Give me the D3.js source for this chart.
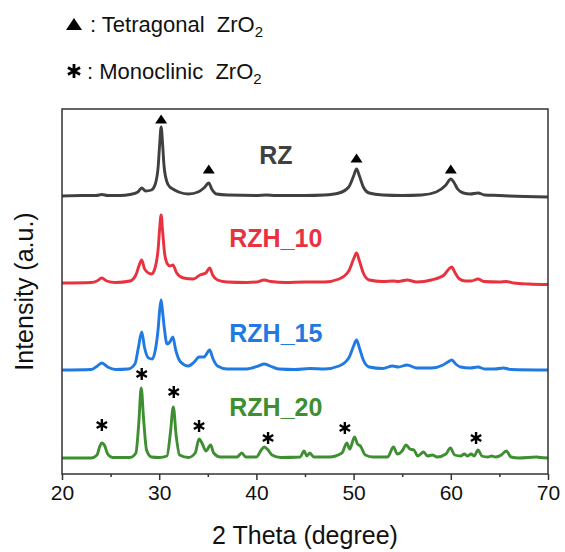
<!DOCTYPE html>
<html><head><meta charset="utf-8">
<script src="https://cdn.jsdelivr.net/npm/d3@7"></script>
<style>body{margin:0;background:#fff;} text{font-family:"Liberation Sans",Arial,sans-serif;}</style>
</head><body><svg id="c" width="565" height="552"></svg>
<script>
// ---- data (2θ in degrees, intensity in a.u. above each trace's own baseline) ----
const seriesNames = ["RZ", "RZH_10", "RZH_15", "RZH_20"];
const seriesColors = ["#404040", "#e8323f", "#2179e2", "#3e8f31"];
const seriesOffsets = [278, 191, 104, 16];

const rz = [[20,0],[22,0.5],[23.5,0.5],[24.1,1.5],[24.7,0.5],[26,0.5],[27,1.5],[27.8,4],[28.2,8],[28.6,5],[29.2,6],[29.6,12],[29.9,30],[30.05,52],[30.2,69],[30.35,52],[30.5,30],[30.8,14],[31.1,9],[31.4,7],[32,4],[33,2],[34,4],[34.6,8],[35.1,13],[35.4,7],[35.9,2],[37,1],[40,0.5],[41,1],[42,0.5],[45,0.5],[47,1],[48.5,3],[49.5,9],[50,20],[50.3,27],[50.6,20],[51,9],[51.6,3],[53,1],[55,0.5],[57,1],[58.5,4],[59.5,11],[60.0,17],[60.3,14],[60.7,7],[61.3,3],[62,2],[62.8,3],[63.5,1],[65,0.5],[66,0],[70,-1]];
const rzh10 = [[20,0],[23,0.5],[23.6,2],[24.1,5],[24.6,2],[25.5,0.5],[27,2],[27.6,8],[27.95,18],[28.2,23],[28.5,14],[29.2,9],[29.6,16],[29.9,35],[30.05,55],[30.2,68],[30.35,52],[30.55,30],[30.85,19],[31.1,17],[31.4,18],[31.8,10],[32.5,5],[33.5,4],[34.2,8],[34.8,10],[35.2,15],[35.5,8],[36,3],[37,1],[39,0.5],[40,1],[40.8,3],[41.5,1.5],[43,0.5],[45,1],[47,1],[48.5,4],[49.5,12],[50.0,24],[50.3,30],[50.6,22],[51,10],[51.6,3],[53,1.5],[54.1,2],[54.6,1.5],[55.5,3],[56.5,1],[58,3],[59.3,8],[59.8,14],[60.1,16],[60.4,11],[60.9,4],[61.5,2],[62.1,2],[62.8,4],[63.4,1.5],[65,1],[65.7,1.5],[66.5,0],[68,-1],[70,-1.5]];
const rzh15 = [[20,0],[23,0.5],[23.5,3],[24.1,7],[24.7,3],[25.5,0.5],[26.8,1],[27.5,6],[27.85,22],[28.2,38],[28.5,22],[28.9,12],[29.3,11],[29.6,20],[29.9,42],[30.05,60],[30.2,70],[30.35,58],[30.55,40],[30.8,26],[31.1,28],[31.4,33],[31.7,20],[32.2,8],[33,4],[33.6,8],[34.1,13],[34.6,13],[35.2,20],[35.5,12],[36,4],[37,1],[39,1],[40.2,4],[40.8,6],[41.4,4],[42.3,1],[44,0.5],[45.5,1.5],[47,1],[48.5,4],[49.5,12],[50.0,24],[50.3,30],[50.6,22],[51,10],[51.6,3],[53,1.5],[54.0,4],[54.6,3],[55.5,5],[56.5,2],[58,2],[59.2,5],[59.7,8],[60.1,10],[60.5,6],[61,3],[62,2],[62.8,3],[63.5,1],[64.5,1],[65.4,2],[66.2,0.5],[70,0]];
const rzh20 = [[20,0],[23,0],[23.6,3],[23.9,12],[24.1,15],[24.4,12],[24.7,4],[25.2,0.5],[27,0.5],[27.6,5],[27.9,35],[28.15,70],[28.4,38],[28.7,8],[29.2,1],[30,0.5],[30.8,2],[31.15,25],[31.45,51],[31.75,22],[32.1,3],[33,0.5],[33.7,5],[34.1,19],[34.4,15],[34.8,7],[35.3,13],[35.6,5],[36.3,1],[38,1],[38.5,5],[38.9,1],[40,1],[40.5,8],[40.8,11],[41.2,8],[41.6,3],[42.5,0.5],[44.5,1],[44.9,7],[45.2,2],[45.5,5],[45.9,1],[47.5,1],[48.8,5],[49.3,15],[49.6,9],[50.1,21],[50.4,14],[50.7,12],[51.2,3],[52,1],[53.5,1],[54.1,11],[54.5,4],[55.0,7],[55.4,13],[55.8,9],[56.2,8],[56.6,2],[57.2,6],[57.6,2],[58.1,3],[58.6,1],[59.5,4],[59.95,10],[60.4,3],[61,2],[61.4,4],[61.7,2],[62.1,4],[62.4,2],[62.8,8],[63.2,2],[63.8,1],[64.2,2],[64.6,1],[65.2,3],[65.7,7],[66.2,1],[67,0],[68.8,1],[69.2,0.5],[70,0]];
const seriesData = [rz, rzh10, rzh15, rzh20];

// peak markers: [2θ, absolute intensity level]
const tetragonalMarks = [[30.2,355],[35.1,305],[50.3,316],[60.0,305]];
const monoclinicMarks = [[24.1,49],[28.2,100],[31.5,82],[34.1,48],[41.2,36],[49.1,46],[62.6,36]];
// sample labels: [2θ, absolute intensity level]
const labelPos = [[42.0,319],[42.0,236],[42.0,141],[42.0,67]];

const xTicks = [20,30,40,50,60,70];
const xMinorTicks = [25,35,45,55,65];

// ---- layout ----
const svg = d3.select("#c");
const L = 62, R = 548, T = 109, B = 474;
const x = d3.scaleLinear().domain([20,70]).range([L,R]);
const y = d3.scaleLinear().domain([0,365]).range([B,T]);

const line = d3.line().x(d => x(d[0])).curve(d3.curveMonotoneX);

seriesData.forEach((s,i) => {
  svg.append("path")
    .attr("d", line.y(d => y(d[1] + seriesOffsets[i]))(s))
    .attr("fill","none").attr("stroke",seriesColors[i])
    .attr("stroke-width",2.9).attr("stroke-linejoin","round");
});

// frame
svg.append("rect").attr("x",L).attr("y",T).attr("width",R-L).attr("height",B-T)
  .attr("fill","none").attr("stroke","#333").attr("stroke-width",1.5);

// x axis
const ax = svg.append("g").attr("transform",`translate(0,${B})`)
  .call(d3.axisBottom(x).tickValues(xTicks).tickSize(6).tickPadding(5).tickFormat(d3.format("d")));
ax.select(".domain").remove();
ax.selectAll("line").attr("stroke","#333").attr("stroke-width",1.5);
ax.selectAll("text").attr("font-size",21).attr("fill","#111")
  .style("font-family","'Liberation Sans',Arial,sans-serif");
const axm = svg.append("g").attr("transform",`translate(0,${B})`)
  .call(d3.axisBottom(x).tickValues(xMinorTicks).tickSize(3).tickFormat(""));
axm.select(".domain").remove();
axm.selectAll("line").attr("stroke","#333").attr("stroke-width",1.5);

svg.append("text").attr("x",(L+R)/2).attr("y",544).attr("text-anchor","middle")
  .attr("font-size",25).attr("fill","#111").text("2 Theta (degree)");
svg.append("text").attr("transform",`translate(33,${(T+B)/2}) rotate(-90)`)
  .attr("text-anchor","middle").attr("font-size",25).attr("fill","#111").text("Intensity (a.u.)");

// sample labels
labelPos.forEach((p,i) => {
  svg.append("text").attr("x",x(p[0])).attr("y",y(p[1])).attr("text-anchor","middle")
    .attr("dominant-baseline","central")
    .attr("font-size",25).attr("font-weight","bold").attr("fill",seriesColors[i]).text(seriesNames[i]);
});

// markers
function tri(cx, cy, w, h){ return `M${cx},${cy-h/2}L${cx+w/2},${cy+h/2}L${cx-w/2},${cy+h/2}Z`; }
function star(cx, cy, r){
  let d = "";
  [90,30,150].forEach(a => { const t = a*Math.PI/180;
    d += `M${cx+r*Math.cos(t)},${cy-r*Math.sin(t)}L${cx-r*Math.cos(t)},${cy+r*Math.sin(t)}`; });
  return d;
}
tetragonalMarks.forEach(m => svg.append("path").attr("d",tri(x(m[0]),y(m[1]),12,9)).attr("fill","#000"));
monoclinicMarks.forEach(m => svg.append("path").attr("d",star(x(m[0]),y(m[1]),6)).attr("stroke","#000").attr("stroke-width",2.4).attr("fill","none"));

// legend
svg.append("path").attr("d",tri(74,24,16,12)).attr("fill","#000");
const t1 = svg.append("text").attr("x",90).attr("y",32).attr("font-size",22).attr("fill","#111").attr("xml:space","preserve");
t1.append("tspan").text(": Tetragonal  ZrO");
t1.append("tspan").attr("font-size",15).attr("dy",5).text("2");
svg.append("path").attr("d",star(74,71,7)).attr("stroke","#000").attr("stroke-width",2.8).attr("fill","none");
const t2 = svg.append("text").attr("x",87).attr("y",79).attr("font-size",22).attr("fill","#111").attr("xml:space","preserve");
t2.append("tspan").text(": Monoclinic  ZrO");
t2.append("tspan").attr("font-size",15).attr("dy",5).text("2");
</script></body></html>
